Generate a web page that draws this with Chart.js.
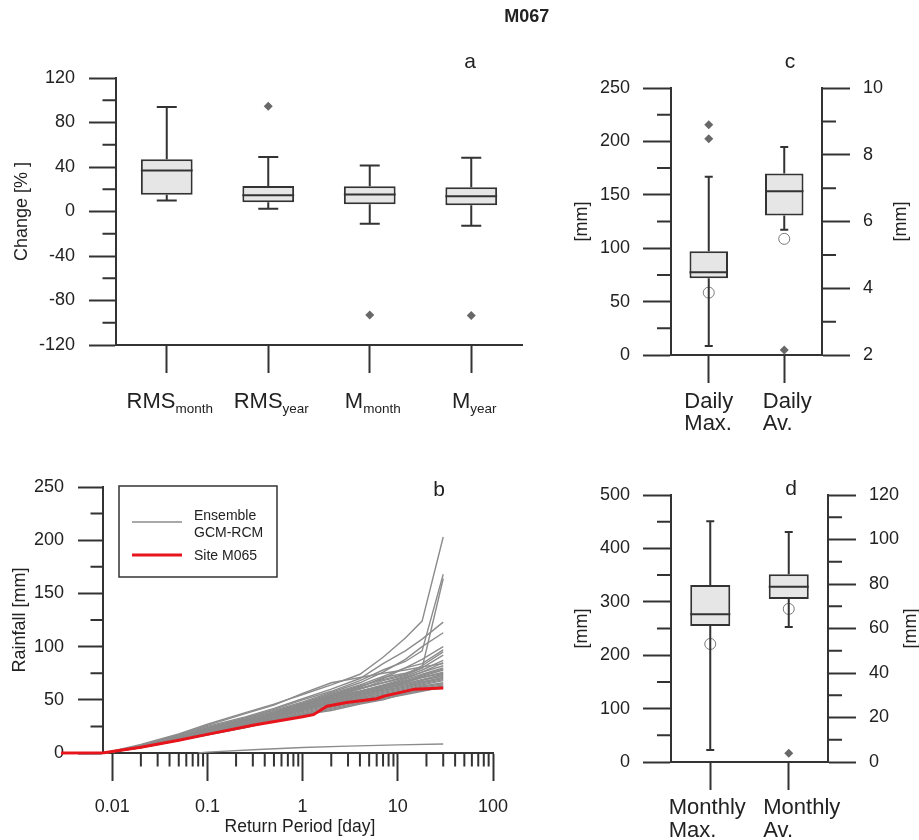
<!DOCTYPE html>
<html>
<head>
<meta charset="utf-8">
<title>M067</title>
<script src="https://cdn.jsdelivr.net/npm/chart.js@4.4.1/dist/chart.umd.min.js"></script>
<style>
body { margin: 0; background: #fff; }
#page { position: relative; width: 919px; height: 840px; }
#page canvas { position: absolute; left: 0; top: 0; }
</style>
</head>
<body>
<div id="page">
<canvas id="chartA" width="919" height="840"></canvas>
<canvas id="chartB" width="919" height="840"></canvas>
<canvas id="chartC" width="919" height="840"></canvas>
<canvas id="chartD" width="919" height="840"></canvas>
</div>
<script>
// panel a: change of the statistics [%]
const changeNames = ['RMS', 'RMS', 'M', 'M'];
const changeSubs = ['month', 'year', 'month', 'year'];
const changeMin = [10, 2.4, -11, -12.9];
const changeQ1 = [15, 8.4, 6.6, 5.7];
const changeMedian = [36.8, 14.7, 15.3, 13.8];
const changeQ3 = [47, 23, 22.8, 21.9];
const changeMax = [94, 49, 41.3, 48.3];
const changeOutliers = [[], [94.7], [-93], [-93.5]];

// panel c: daily values (max on left axis, average on right axis)
const dailyTop = ['Daily', 'Daily'];
const dailyBottom = ['Max.', 'Av.'];
const dailyMin = [8.4, 5.75];
const dailyQ1 = [71.9, 6.18];
const dailyMedian = [77.5, 6.91];
const dailyQ3 = [97.2, 7.44];
const dailyMax = [167, 8.23];
const dailyOutliers = [[215.6, 202.5], [2.15]];
const dailySite = [58.4, 5.48];

// panel d: monthly values
const monthlyTop = ['Monthly', 'Monthly'];
const monthlyBottom = ['Max.', 'Av.'];
const monthlyMin = [22.5, 60.7];
const monthlyQ1 = [254.7, 73.3];
const monthlyMedian = [276.5, 78.8];
const monthlyQ3 = [331.5, 84.4];
const monthlyMax = [450.7, 103.4];
const monthlyOutliers = [[], [3.9]];
const monthlySite = [221, 68.8];

// panel b: rainfall vs return period
const returnTicks = [0.01, 0.1, 1, 10, 100];
const gcmX = [0.0029, 0.0085, 0.02, 0.05, 0.1, 0.25, 0.5, 1, 2, 4, 7, 12, 18, 30];
const gcmRuns = [
	[0, 0.3, 8, 18, 27, 38, 46, 55, 64, 74, 90, 108, 124, 203],
	[0, 0.3, 7, 16, 24, 33, 41, 50, 58, 68, 78, 86, 96, 168],
	[0, 0.3, 6, 15, 22, 31, 38, 46, 54, 62, 71, 75, 80, 164],
	[0, 0.3, 7, 17, 25, 34, 42, 51, 60, 70, 84, 96, 107, 123],
	[0, 0.3, 6, 15, 23, 33, 40, 48, 57, 66, 76, 88, 100, 113],
	[0, 0.3, 6, 15, 23, 32, 39, 47, 56, 64, 72, 80, 88, 100],
	[0, 0.3, 6, 14, 22, 31, 38, 46, 54, 62, 70, 80, 84, 97],
	[0, 0.3, 6, 14, 21, 30, 38, 46, 55, 63, 69, 74, 82, 95],
	[0, 0.3, 6, 14, 21, 29, 36, 44, 52, 60, 68, 73, 80, 92],
	[0, 0.3, 6, 14, 21, 30, 37, 45, 53, 61, 66, 72, 78, 87],
	[0, 0.3, 5, 13, 20, 29, 36, 44, 52, 58, 64, 70, 76, 85],
	[0, 0.3, 6, 15, 22, 31, 38, 46, 54, 60, 66, 71, 76, 82],
	[0, 0.3, 6, 14, 21, 30, 37, 45, 52, 58, 63, 69, 74, 80],
	[0, 0.3, 5, 13, 20, 28, 35, 43, 50, 57, 62, 67, 73, 79],
	[0, 0.3, 6, 14, 21, 29, 36, 44, 51, 57, 63, 68, 72, 78],
	[0, 0.3, 5, 13, 20, 28, 35, 42, 50, 56, 61, 66, 71, 76],
	[0, 0.3, 6, 14, 22, 31, 38, 46, 53, 58, 63, 67, 71, 75],
	[0, 0.3, 5, 13, 19, 27, 34, 42, 49, 55, 60, 65, 69, 74],
	[0, 0.3, 5, 12, 19, 27, 34, 41, 48, 54, 60, 64, 68, 73],
	[0, 0.3, 6, 14, 21, 29, 36, 43, 50, 56, 61, 65, 69, 72],
	[0, 0.3, 5, 13, 20, 28, 35, 42, 48, 54, 59, 63, 67, 71],
	[0, 0.3, 5, 12, 18, 26, 33, 40, 47, 53, 58, 62, 66, 70],
	[0, 0.3, 5, 13, 20, 28, 34, 41, 47, 52, 57, 61, 65, 69],
	[0, 0.3, 5, 12, 19, 27, 33, 40, 46, 52, 56, 60, 64, 68],
	[0, 0.3, 5, 12, 18, 26, 32, 39, 45, 51, 55, 59, 63, 66],
	[0, 0.3, 5, 12, 18, 25, 31, 38, 44, 50, 54, 58, 62, 65],
	[0, 0.3, 5, 12, 18, 25, 31, 37, 43, 49, 53, 57, 61, 64],
	[0, 0.3, 5, 12, 18, 25, 30, 36, 42, 48, 52, 56, 60, 63],
	[0, 0.3, 5, 12, 17, 24, 30, 36, 41, 47, 51, 55, 58, 62],
	[0, 0.3, 7, 17, 26, 37, 45, 56, 66, 71, 75, 78, 81, 84],
	[0, 0.3, 5, 12, 17, 24, 30, 36, 40, 46, 50, 56, 59, 61],
];
const lowRunX = [0.08, 0.1, 0.3, 1, 3, 10, 30];
const lowRunY = [0, 0.8, 3, 5.2, 6.5, 7.6, 8.4];
const siteX = [0.0029, 0.0082, 0.01, 0.02, 0.05, 0.1, 0.3, 1, 1.3, 1.8, 2.9, 6, 7.2, 15, 30];
const siteY = [0, 0.3, 1.5, 5.5, 12, 17.5, 26, 34, 36, 44, 47.5, 51, 53.5, 60, 61];

const FONT = '"Liberation Sans", Arial, Helvetica, sans-serif';
const INK = '#222';
const AXIS = '#333';
const GREY = '#8c8c8c';
const RED = '#e8141c';
Chart.defaults.font.family = FONT;
Chart.defaults.color = INK;

function label(ctx, str, x, y, size, opt) {
	opt = opt || {};
	ctx.save();
	ctx.font = (opt.bold ? 'bold ' : '') + size + 'px ' + FONT;
	ctx.fillStyle = INK;
	ctx.textAlign = opt.align || 'center';
	ctx.textBaseline = opt.baseline || 'alphabetic';
	ctx.translate(x, y);
	if (opt.rotate) ctx.rotate(opt.rotate);
	ctx.fillText(str, 0, 0);
	ctx.restore();
}

function yScale(pos, min, max, step, width, tickLen, pad) {
	return {
		type: 'linear', position: pos, min: min, max: max,
		ticks: { stepSize: step, padding: pad, font: { size: 18 }, color: INK },
		grid: { drawOnChartArea: false, tickLength: tickLen, tickWidth: 2, tickColor: AXIS },
		border: { color: AXIS, width: 2 },
		afterFit: function (s) { s.width = width; }
	};
}

// short ticks between the labelled ones
function drawMinor(chart, id, min, max, step, major, len) {
	const s = chart.scales[id], a = chart.chartArea, ctx = chart.ctx;
	ctx.save();
	ctx.strokeStyle = AXIS;
	ctx.lineWidth = 2;
	ctx.beginPath();
	for (let v = min + step; v < max - 1e-9; v += step) {
		const r = (v - min) / major;
		if (Math.abs(r - Math.round(r)) < 1e-6) continue;
		const p = s.getPixelForValue(v);
		if (s.position === 'left') { ctx.moveTo(a.left - len, p); ctx.lineTo(a.left, p); }
		else { ctx.moveTo(a.right, p); ctx.lineTo(a.right + len, p); }
	}
	ctx.stroke();
	ctx.restore();
}

function boxPanel(canvasId, p) {
	const datasets = [];
	const barIndex = [];
	p.keys.forEach(function (key, i) {
		const axis = p.axes[i];
		barIndex.push(datasets.length);
		datasets.push({
			type: 'bar', yAxisID: axis, order: 2,
			data: p.keys.map(function (k, j) { return j === i ? [p.q1[i], p.q3[i]] : null; }),
			backgroundColor: '#e6e6e6', borderColor: AXIS, borderWidth: 2, borderSkipped: false,
			grouped: false, barPercentage: 0.51, categoryPercentage: 1
		});
		if (p.outliers[i].length) {
			datasets.push({
				type: 'line', yAxisID: axis, order: 1, showLine: false,
				data: p.outliers[i].map(function (v) { return { x: key, y: v }; }),
				pointStyle: 'rectRot', pointRadius: 4.5, pointBackgroundColor: '#686868', pointBorderWidth: 0
			});
		}
		if (p.site) {
			datasets.push({
				type: 'line', yAxisID: axis, order: 1, showLine: false,
				data: [{ x: key, y: p.site[i] }],
				pointStyle: 'circle', pointRadius: 5.5, pointBackgroundColor: 'rgba(255,255,255,0)',
				pointBorderColor: '#7a7a7a', pointBorderWidth: 1
			});
		}
	});

	const scales = {
		x: {
			type: 'category', offset: true,
			ticks: { display: false },
			grid: { offset: false, drawOnChartArea: false, tickLength: 28, tickWidth: 2, tickColor: AXIS },
			border: { color: AXIS, width: 2 },
			afterFit: function (s) { s.height = p.xHeight; }
		}
	};
	p.yScales.forEach(function (a) {
		scales[a.id] = yScale(a.pos, a.min, a.max, a.step, a.width, a.tick, a.pad);
	});

	return new Chart(document.getElementById(canvasId), {
		type: 'bar',
		data: { labels: p.keys, datasets: datasets },
		options: {
			responsive: false, animation: false, events: [],
			layout: { padding: p.padding },
			plugins: { legend: { display: false }, tooltip: { enabled: false } },
			scales: scales
		},
		plugins: [{
			id: canvasId + 'Boxes',
			afterDatasetsDraw: function (chart) {
				const ctx = chart.ctx, xs = chart.scales.x;
				ctx.save();
				ctx.strokeStyle = AXIS;
				ctx.lineWidth = 2;
				p.keys.forEach(function (key, i) {
					const ys = chart.scales[p.axes[i]];
					const cx = xs.getPixelForValue(i);
					const hw = chart.getDatasetMeta(barIndex[i]).data[i].width / 2;
					const cw = p.capWidth / 2;
					const yMin = ys.getPixelForValue(p.min[i]);
					const yMax = ys.getPixelForValue(p.max[i]);
					const yQ1 = ys.getPixelForValue(p.q1[i]);
					const yQ3 = ys.getPixelForValue(p.q3[i]);
					const yMed = ys.getPixelForValue(p.median[i]);
					ctx.beginPath();
					ctx.moveTo(cx, yQ3); ctx.lineTo(cx, yMax);
					ctx.moveTo(cx - cw, yMax); ctx.lineTo(cx + cw, yMax);
					ctx.moveTo(cx, yQ1); ctx.lineTo(cx, yMin);
					ctx.moveTo(cx - cw, yMin); ctx.lineTo(cx + cw, yMin);
					ctx.moveTo(cx - hw, yMed); ctx.lineTo(cx + hw, yMed);
					ctx.stroke();
				});
				ctx.restore();
			},
			afterDraw: function (chart) {
				p.yScales.forEach(function (a) {
					drawMinor(chart, a.id, a.min, a.max, a.minor, a.step, a.tick / 2);
				});
				const xs = chart.scales.x;
				p.keys.forEach(function (key, i) {
					p.drawLabel(chart.ctx, i, xs.getPixelForValue(i), chart.chartArea.bottom);
				});
				p.decorate(chart.ctx, chart.chartArea);
			}
		}]
	});
}

// ---- panel a ----
boxPanel('chartA', {
	keys: changeNames.map(function (n, i) { return n + '_' + changeSubs[i]; }),
	axes: ['y', 'y', 'y', 'y'],
	min: changeMin, q1: changeQ1, median: changeMedian, q3: changeQ3, max: changeMax,
	outliers: changeOutliers,
	yScales: [{ id: 'y', pos: 'left', min: -120, max: 120, step: 40, minor: 20, width: 116, tick: 27, pad: 14 }],
	xHeight: 80,
	padding: { left: 0, top: 78, right: 397, bottom: 415 },
	capWidth: 20,
	drawLabel: function (ctx, i, x, bottom) {
		ctx.save();
		ctx.font = '22px ' + FONT;
		const wMain = ctx.measureText(changeNames[i]).width;
		ctx.font = '13.5px ' + FONT;
		const wSub = ctx.measureText(changeSubs[i]).width;
		ctx.restore();
		const x0 = x + 3 - (wMain + wSub) / 2;
		label(ctx, changeNames[i], x0, bottom + 63, 22, { align: 'left' });
		label(ctx, changeSubs[i], x0 + wMain, bottom + 68, 13.5, { align: 'left' });
	},
	decorate: function (ctx, a) {
		label(ctx, 'M067', 526.7, 22, 18, { bold: true });
		label(ctx, 'a', a.right - 52, a.top - 10, 21);
		label(ctx, 'Change [% ]', 22.5, (a.top + a.bottom) / 2, 18, { rotate: -Math.PI / 2, baseline: 'middle' });
	}
});

// ---- panel c ----
boxPanel('chartC', {
	keys: dailyTop.map(function (t, i) { return t + ' ' + dailyBottom[i]; }),
	axes: ['y', 'y2'],
	min: dailyMin, q1: dailyQ1, median: dailyMedian, q3: dailyQ3, max: dailyMax,
	outliers: dailyOutliers, site: dailySite,
	yScales: [
		{ id: 'y', pos: 'left', min: 0, max: 250, step: 50, minor: 25, width: 100, tick: 28, pad: 13 },
		{ id: 'y2', pos: 'right', min: 2, max: 10, step: 2, minor: 1, width: 97, tick: 28, pad: 13 }
	],
	xHeight: 75,
	padding: { left: 571, top: 88, right: 0, bottom: 410 },
	capWidth: 8,
	drawLabel: function (ctx, i, x, bottom) {
		ctx.save();
		ctx.font = '22px ' + FONT;
		const w = ctx.measureText(dailyTop[i]).width;
		ctx.restore();
		const x0 = x - w / 2 + [0, 3][i];
		label(ctx, dailyTop[i], x0, bottom + 53, 22, { align: 'left' });
		label(ctx, dailyBottom[i], x0, bottom + 75, 22, { align: 'left' });
	},
	decorate: function (ctx, a) {
		label(ctx, 'c', a.right - 32, a.top - 20, 21);
		label(ctx, '[mm]', 582.5, (a.top + a.bottom) / 2, 18, { rotate: -Math.PI / 2, baseline: 'middle' });
		label(ctx, '[mm]', 901, (a.top + a.bottom) / 2, 18, { rotate: -Math.PI / 2, baseline: 'middle' });
	}
});

// ---- panel d ----
boxPanel('chartD', {
	keys: monthlyTop.map(function (t, i) { return t + ' ' + monthlyBottom[i]; }),
	axes: ['y', 'y2'],
	min: monthlyMin, q1: monthlyQ1, median: monthlyMedian, q3: monthlyQ3, max: monthlyMax,
	outliers: monthlyOutliers, site: monthlySite,
	yScales: [
		{ id: 'y', pos: 'left', min: 0, max: 500, step: 100, minor: 50, width: 100, tick: 28, pad: 13 },
		{ id: 'y2', pos: 'right', min: 0, max: 120, step: 20, minor: 10, width: 91, tick: 28, pad: 13 }
	],
	xHeight: 75,
	padding: { left: 571, top: 495, right: 0, bottom: 3 },
	capWidth: 8,
	drawLabel: function (ctx, i, x, bottom) {
		ctx.save();
		ctx.font = '22px ' + FONT;
		const w = ctx.measureText(monthlyTop[i]).width;
		ctx.restore();
		const x0 = x - w / 2 + [-3, 13][i];
		label(ctx, monthlyTop[i], x0, bottom + 52, 22, { align: 'left' });
		label(ctx, monthlyBottom[i], x0, bottom + 74.5, 22, { align: 'left' });
	},
	decorate: function (ctx, a) {
		label(ctx, 'd', a.right - 37, a.top, 21);
		label(ctx, '[mm]', 582.5, (a.top + a.bottom) / 2, 18, { rotate: -Math.PI / 2, baseline: 'middle' });
		label(ctx, '[mm]', 911, (a.top + a.bottom) / 2, 18, { rotate: -Math.PI / 2, baseline: 'middle' });
	}
});

// ---- panel b ----
const rainDatasets = [{
	data: siteX.map(function (x, i) { return { x: x, y: siteY[i] }; }),
	borderColor: RED, borderWidth: 3, order: 0
}, {
	data: lowRunX.map(function (x, i) { return { x: x, y: lowRunY[i] }; }),
	borderColor: GREY, borderWidth: 1.4, order: 1
}];
gcmRuns.forEach(function (run) {
	rainDatasets.push({
		data: run.map(function (y, i) { return { x: gcmX[i], y: y }; }),
		borderColor: GREY, borderWidth: 1.4, order: 1
	});
});
rainDatasets.forEach(function (d) { d.clip = false; d.pointRadius = 0; d.tension = 0; });

new Chart(document.getElementById('chartB'), {
	type: 'line',
	data: { datasets: rainDatasets },
	options: {
		responsive: false, animation: false, events: [],
		layout: { padding: { left: 0, top: 487, right: 426, bottom: 7 } },
		plugins: { legend: { display: false }, tooltip: { enabled: false } },
		scales: {
			x: {
				type: 'logarithmic', min: 0.008, max: 100, bounds: 'data',
				afterBuildTicks: function (s) { s.ticks = returnTicks.map(function (v) { return { value: v }; }); },
				ticks: { callback: function (v) { return String(v); }, font: { size: 18 }, color: INK, padding: 15, autoSkip: false, maxRotation: 0 },
				grid: { drawOnChartArea: false, tickLength: 28, tickWidth: 2, tickColor: AXIS },
				border: { color: AXIS, width: 2 },
				afterFit: function (s) { s.height = 80; }
			},
			y: yScale('left', 0, 250, 50, 103, 25, 14)
		}
	},
	plugins: [{
		id: 'rainExtras',
		afterDraw: function (chart) {
			const ctx = chart.ctx, a = chart.chartArea, xs = chart.scales.x;
			drawMinor(chart, 'y', 0, 250, 25, 50, 12.5);
			// minor log ticks 2..9 in each decade
			ctx.save();
			ctx.strokeStyle = AXIS;
			ctx.lineWidth = 2;
			ctx.beginPath();
			returnTicks.slice(0, -1).forEach(function (d) {
				for (let k = 2; k <= 9; k++) {
					const px = xs.getPixelForValue(d * k);
					ctx.moveTo(px, a.bottom);
					ctx.lineTo(px, a.bottom + 13.5);
				}
			});
			ctx.stroke();

			// legend box
			const lx = a.left + 16, ly = a.top - 1;
			ctx.lineWidth = 1.5;
			ctx.strokeRect(lx, ly, 158, 91);
			ctx.beginPath();
			ctx.strokeStyle = GREY;
			ctx.lineWidth = 1.4;
			ctx.moveTo(lx + 13, ly + 36); ctx.lineTo(lx + 63, ly + 36);
			ctx.stroke();
			ctx.beginPath();
			ctx.strokeStyle = RED;
			ctx.lineWidth = 3;
			ctx.moveTo(lx + 13, ly + 69); ctx.lineTo(lx + 63, ly + 69);
			ctx.stroke();
			ctx.restore();
			label(ctx, 'Ensemble', lx + 75, ly + 34, 14, { align: 'left' });
			label(ctx, 'GCM-RCM', lx + 75, ly + 50.5, 14, { align: 'left' });
			label(ctx, 'Site M065', lx + 75, ly + 74, 14, { align: 'left' });

			label(ctx, 'b', a.right - 54, a.top + 9, 21);
			label(ctx, 'Rainfall [mm]', 20.5, (a.top + a.bottom) / 2, 18, { rotate: -Math.PI / 2, baseline: 'middle' });
			label(ctx, 'Return Period [day]', 300, 832, 17.5);
		}
	}]
});
</script>
</body>
</html>
